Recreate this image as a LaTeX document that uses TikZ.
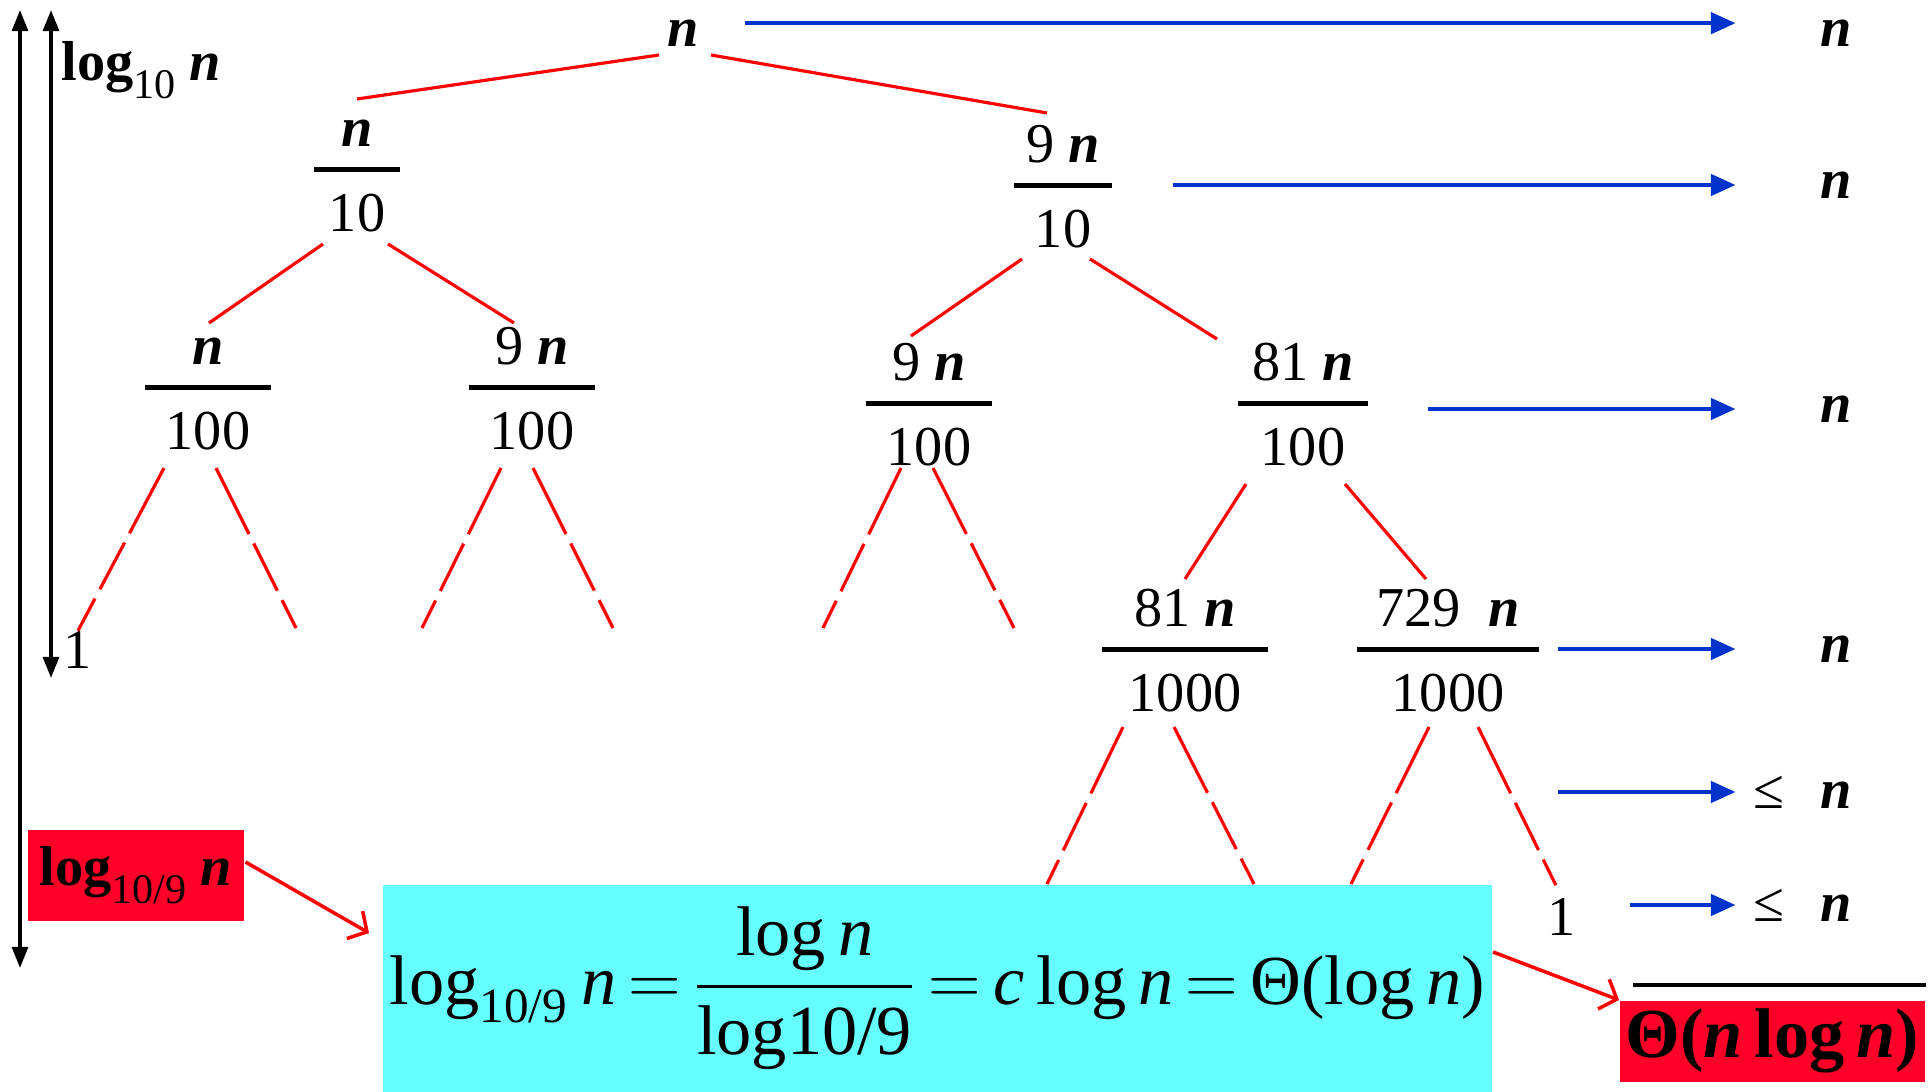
\documentclass[tikz,border=0pt]{standalone}
\usepackage{fontspec}
\setmainfont{Liberation Serif}
\usepackage{xcolor}
\usepackage{tikz}
\usepackage{amsmath}
\usetikzlibrary{arrows.meta,positioning,calc}
\definecolor{treered}{HTML}{FF0000}
\definecolor{boxred}{HTML}{FF0028}
\definecolor{boxcyan}{HTML}{66FFFF}
\definecolor{flowblue}{HTML}{0033CC}
\newcommand{\bn}{\textbf{\textit{n}}}
\newcommand{\fr}[3]{{\setlength{\arrayrulewidth}{1.4pt}%
  \begin{tabular}{@{}c@{}}\makebox[#1]{#2}\\\hline\rule{0pt}{17pt}\makebox[#1]{#3}\end{tabular}}}
\tikzset{
  cost/.style={inner sep=0pt, font=\fontsize{16}{19}\selectfont},
  rlab/.style={anchor=east, text width=1.15cm, align=right, inner sep=0pt, font=\fontsize{16}{19}\selectfont},
  branch/.style={draw=treered, line width=0.9pt},
  dashbranch/.style={branch, dash pattern=on 21pt off 3pt on 15pt off 3pt},
  flow/.style={draw=flowblue, line width=1.2pt, -{Triangle[length=7pt,width=6pt]}},
  callout/.style={draw=treered, line width=1pt, -{Straight Barb[length=4pt,width=9pt]}},
  heightarrow/.style={line width=1pt, {Triangle[length=6pt,width=4.5pt]}-{Triangle[length=6pt,width=4.5pt]}},
  hilite/.style={fill=boxred, inner sep=0pt, font=\fontsize{16}{19}\selectfont}
}
\begin{document}
\begin{tikzpicture}[x=0.01cm, y=-0.01cm]
\useasboundingbox (0,0) rectangle (1931,1091);

\node[cost] (root) at (683,33) {\bn};
\node[cost] (a) at (357,176) {\fr{24.5pt}{\bn}{10}};
\node[cost] (b) at (1063,192) {\fr{28pt}{9 \bn}{10}};
\node[cost] (c) at (208,394) {\fr{36pt}{\bn}{100}};
\node[cost] (d) at (532,394) {\fr{36pt}{9 \bn}{100}};
\node[cost] (e) at (929,410) {\fr{36pt}{9 \bn}{100}};
\node[cost] (f) at (1303,410) {\fr{36.7pt}{81 \bn}{100}};
\node[cost] (g) at (1185,656) {\fr{47pt}{81 \bn}{1000}};
\node[cost] (h) at (1448,656) {\fr{52pt}{729\enspace\bn}{1000}};
\node[cost] (leaf) at (78,650) {1};
\node[cost] (one) at (1562,917) {1};

\draw[branch] ($(root)+(-24,22)$) -- ($(a)+(0,-77)$);
\draw[branch] ($(root)+(28,22)$) -- ($(b)+(-16,-79)$);
\draw[branch] ($(a)+(-34,68)$) -- ($(c)+(1,-71)$);
\draw[branch] ($(a)+(31,68)$) -- ($(d)+(-18,-71)$);
\draw[branch] ($(b)+(-41,67)$) -- ($(e)+(-18,-74)$);
\draw[branch] ($(b)+(27,67)$) -- ($(f)+(-86,-71)$);
\draw[branch] ($(f)+(-57,74)$) -- ($(g)+(0,-77)$);
\draw[branch] ($(f)+(42,74)$) -- ($(h)+(-22,-77)$);

\draw[dashbranch] ($(c)+(-44,74)$) -- (leaf.north);
\draw[dashbranch] ($(c)+(8,74)$) -- ++(80,160);
\draw[dashbranch] ($(d)+(-31,74)$) -- ++(-79,160);
\draw[dashbranch] ($(d)+(1,74)$) -- ++(80,160);
\draw[dashbranch] ($(e)+(-28,58)$) -- ++(-78,160);
\draw[dashbranch] ($(e)+(4,58)$) -- ++(81,160);
\draw[dashbranch] ($(g)+(-62,71)$) -- ++(-76,157);
\draw[dashbranch] ($(g)+(-11,71)$) -- ++(80,157);
\draw[dashbranch] ($(h)+(-19,71)$) -- ++(-78,157);
\draw[dashbranch, shorten >=4pt] ($(h)+(30,71)$) -- (one.north);

\coordinate (outtop) at (20,10);
\coordinate (outbot) at (20,968);
\coordinate (intop) at (51,10);
\coordinate (inbot) at (51,678);
\draw[heightarrow] (outtop) -- (outbot);
\draw[heightarrow] (intop) -- (inbot);
\node[cost, anchor=base west] (hlab) at (61,81) {\textbf{log}\raisebox{-5pt}{\fontsize{12}{14}\selectfont 10} \bn};

\node[rlab] (r1) at (1852,33) {\bn};
\node[rlab] (r2) at (1852,185) {\bn};
\node[rlab] (r3) at (1852,409) {\bn};
\node[rlab] (r4) at (1852,649) {\bn};
\node[rlab] (r5) at (1852,792) {≤\hspace{10pt}\bn};
\node[rlab] (r6) at (1852,905) {≤\hspace{10pt}\bn};

\draw[flow, shorten <=13pt] ([yshift=2.8pt]root.east |- r1.west) -- ([yshift=2.8pt]r1.west);
\draw[flow, shorten <=17pt] (b.east |- r2.west) -- (r2.west);
\draw[flow, shorten <=17pt] (f.east |- r3.west) -- (r3.west);
\draw[flow, shorten <=5pt] (h.east |- r4.west) -- (r4.west);
\draw[flow, shorten <=5pt] (h.east |- r5.west) -- (r5.west);
\draw[flow, shorten <=15pt] (one.east |- r6.west) -- (r6.west);

\node[hilite, anchor=north west, minimum width=2.16cm, minimum height=0.91cm] (lbox) at (27,829)
  {\textbf{log}\raisebox{-5pt}{\fontsize{12}{14}\selectfont 10/9} \bn};
\node[fill=boxcyan, anchor=north west, minimum width=11.09cm, minimum height=2.07cm, inner sep=0pt,
  font=\fontsize{20}{24}\selectfont] (eq) at (382,884)
  {\thickmuskip=3mu $\text{log}_{\text{10/9}}\,\textit{n} = \dfrac{\text{log}\,\textit{n}}{\text{log10/9}} = \textit{c}\,\text{log}\,\textit{n} = \text{Θ(log}\,\textit{n}\text{)}$};
\node[hilite, anchor=north west, minimum width=3.05cm, minimum height=0.81cm,
  font=\fontsize{20}{24}\selectfont\bfseries] (res) at (1619,1000) {Θ(\textit{n}\,log\,\textit{n})};

\draw[callout] ($(lbox.north east)+(1,33)$) -- ($(eq.north west)+(-13,49)$);
\draw[callout] ($(eq.north east)+(0,68)$) -- (res.north west);
\draw[line width=1pt] ($(res.north west)+(14,-15)$) -- ($(res.north east)+(0,-15)$);
\end{tikzpicture}
\end{document}
